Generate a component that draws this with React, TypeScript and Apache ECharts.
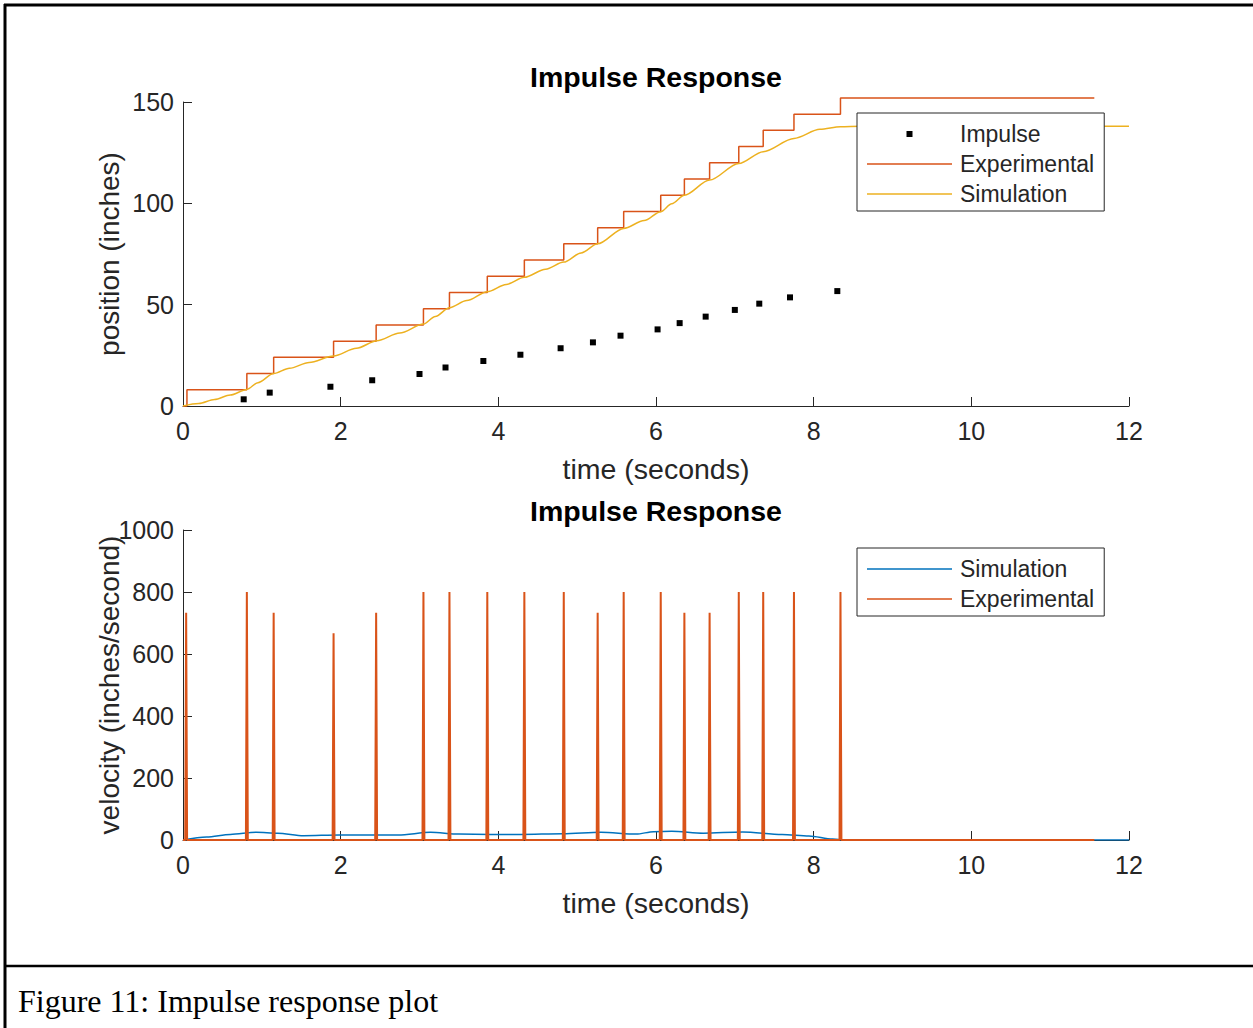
import React, { useEffect, useRef } from "react";
import * as echarts from "echarts";

// ---- Data ----
// Impulse markers (top plot)
const impulseTimes = [0.77, 1.1, 1.87, 2.4, 3.0, 3.33, 3.81, 4.28, 4.79, 5.2, 5.55, 6.02, 6.3, 6.63, 7.0, 7.31, 7.7, 8.3];
const impulseValues = [3.3, 6.6, 9.5, 12.7, 15.8, 19.0, 22.2, 25.3, 28.5, 31.4, 34.7, 37.8, 40.9, 44.1, 47.4, 50.5, 53.6, 56.7];

// Experimental position: step changes (time of step, level after step)
const expStepTimes = [0, 0.05, 0.81, 1.15, 1.91, 2.45, 3.05, 3.38, 3.86, 4.33, 4.83, 5.26, 5.59, 6.06, 6.36, 6.68, 7.05, 7.36, 7.75, 8.34, 11.56];
const expStepLevels = [0, 8, 16, 24, 32, 40, 48, 56, 64, 72, 80, 88, 96, 104, 112, 120, 128, 136, 144, 152, 152];

// Simulated position
const simPosTimes = [0, 0.2, 0.4, 0.6, 0.81, 0.95, 1.15, 1.35, 1.6, 1.91, 2.2, 2.46, 2.75, 3.05, 3.2, 3.38, 3.6, 3.86, 4.1, 4.33, 4.6, 4.83, 5.05, 5.26, 5.59, 5.85, 6.06, 6.2, 6.36, 6.68, 7.05, 7.36, 7.75, 8.08, 8.34, 8.6, 12];
const simPosValues = [0, 1.2, 3.2, 5.4, 8.2, 11.5, 16, 18.6, 21.5, 24.7, 28.5, 32.2, 36, 40.4, 44.2, 48.5, 52, 56.4, 60, 63.5, 67.5, 71, 75.5, 80, 87.6, 91.5, 95.9, 99.8, 104, 111.5, 119.7, 125.5, 132, 136.5, 137.8, 138, 138];

// Simulated velocity
const simVelTimes = [0, 0.3, 0.6, 0.93, 1.2, 1.53, 1.98, 2.4, 2.73, 3.14, 3.5, 3.9, 4.28, 4.82, 5.3, 5.75, 5.97, 6.2, 6.6, 7.1, 7.6, 7.94, 8.24, 8.4, 12];
const simVelValues = [0, 10, 18, 25, 22, 14, 16, 16, 16, 25, 19, 18, 18, 20, 25, 19, 27, 28, 22, 26, 18, 13, 3, 0, 0];

// Experimental velocity spikes
const spikeTimes = [0.04, 0.81, 1.15, 1.91, 2.45, 3.05, 3.38, 3.86, 4.33, 4.83, 5.26, 5.59, 6.06, 6.36, 6.68, 7.05, 7.36, 7.75, 8.34];
const spikePeaks = [733, 800, 733, 667, 733, 800, 800, 800, 800, 800, 733, 800, 800, 733, 733, 800, 800, 800, 800];
const expVelEnd = 11.56;
const SPIKE_HALF_WIDTH = 0.012; // one sample period

const xTicks = { min: 0, max: 12, interval: 2 };

const ORANGE = "#D95319";
const YELLOW = "#EDB120";
const BLUE = "#0072BD";
const AXIS = "#262626";
const FONT = "'Liberation Sans', Arial, sans-serif";
const LINE_ICON = "path://M0 0H85V1.3H0Z";
const SQUARE_ICON = "path://M0 0H10V10H0Z";

function buildSpikes() {
  const pts: number[][] = [[0, 0]];
  spikeTimes.forEach((t, i) => {
    pts.push([Math.max(0, t - SPIKE_HALF_WIDTH), 0]);
    pts.push([t, spikePeaks[i]]);
    pts.push([t + SPIKE_HALF_WIDTH, 0]);
  });
  pts.push([expVelEnd, 0]);
  return pts;
}

function xAxisCfg(gridIndex: number) {
  return {
    type: "value",
    gridIndex,
    min: xTicks.min,
    max: xTicks.max,
    interval: xTicks.interval,
    axisLine: { show: true, onZero: false, lineStyle: { color: AXIS, width: 1 } },
    axisTick: { show: true, inside: true, length: 9, lineStyle: { color: AXIS, width: 1 } },
    axisLabel: { fontSize: 25, color: AXIS, margin: 12, fontFamily: FONT, formatter: (v: number) => String(v) },
    splitLine: { show: false },
    name: "time (seconds)",
    nameLocation: "middle",
    nameGap: 48,
    nameMoveOverlap: false,
    nameTextStyle: { fontSize: 28.5, color: AXIS, fontFamily: FONT },
  };
}

function yAxisCfg(gridIndex: number, max: number, interval: number, name: string) {
  return {
    type: "value",
    gridIndex,
    min: 0,
    max,
    interval,
    axisLine: { show: true, onZero: false, lineStyle: { color: AXIS, width: 1 } },
    axisTick: { show: true, inside: true, length: 9, lineStyle: { color: AXIS, width: 1 } },
    axisLabel: { fontSize: 25, color: AXIS, margin: 9, fontFamily: FONT, formatter: (v: number) => String(v) },
    splitLine: { show: false },
    name,
    nameLocation: "middle",
    nameGap: 60,
    nameMoveOverlap: false,
    nameTextStyle: { fontSize: 28, color: AXIS, fontFamily: FONT },
  };
}

function legendCfg(top: number, data: any[]) {
  return {
    show: true,
    orient: "vertical",
    left: 857,
    top,
    data,
    itemWidth: 85,
    itemHeight: 6,
    itemGap: 6,
    symbolKeepAspect: true,
    padding: [9, 10, 5, 10],
    backgroundColor: "#fff",
    borderColor: AXIS,
    borderWidth: 1,
    borderRadius: 0,
    selectedMode: false,
    formatter: (n: string) => n.trim(),
    textStyle: { fontSize: 23, lineHeight: 24, color: AXIS, fontFamily: FONT, padding: [0, 0, 0, 3] },
  };
}

function titleText(y: number) {
  return {
    type: "text",
    x: 656,
    y,
    style: {
      text: "Impulse Response",
      fontSize: 28.5,
      fontWeight: "bold",
      fontFamily: FONT,
      fill: "#000",
      align: "center",
      verticalAlign: "middle",
      textAlign: "center",
      textVerticalAlign: "middle",
    },
  };
}

export default function App() {
  const ref = useRef<HTMLDivElement>(null);
  useEffect(() => {
    if (!ref.current) return;
    const chart = echarts.init(ref.current, undefined, { renderer: "svg" });
    const option: any = {
      animation: false,
      backgroundColor: "#fff",
      textStyle: { fontFamily: FONT },
      grid: [
        { left: 183, top: 102, width: 946, height: 304 },
        { left: 183, top: 530, width: 946, height: 310 },
      ],
      xAxis: [xAxisCfg(0), xAxisCfg(1)],
      yAxis: [
        yAxisCfg(0, 150, 50, "position (inches)"),
        yAxisCfg(1, 1000, 200, "velocity (inches/second)"),
      ],
      legend: [
        legendCfg(113, [
          { name: "Impulse", icon: SQUARE_ICON, itemStyle: { color: "#000", opacity: 1 } },
          { name: "Experimental", icon: LINE_ICON },
          { name: "Simulation", icon: LINE_ICON },
        ]),
        legendCfg(548, [
          { name: "Simulation ", icon: LINE_ICON },
          { name: "Experimental ", icon: LINE_ICON },
        ]),
      ],
      series: [
        {
          name: "Impulse",
          type: "scatter",
          xAxisIndex: 0,
          yAxisIndex: 0,
          symbol: "rect",
          symbolSize: 6,
          itemStyle: { color: "#000", opacity: 1 },
          data: impulseTimes.map((t, i) => [t, impulseValues[i]]),
        },
        {
          name: "Experimental",
          type: "line",
          xAxisIndex: 0,
          yAxisIndex: 0,
          step: "end",
          symbol: "none",
          clip: false,
          color: ORANGE,
          lineStyle: { color: ORANGE, width: 1.5 },
          data: expStepTimes.map((t, i) => [t, expStepLevels[i]]),
        },
        {
          name: "Simulation",
          type: "line",
          xAxisIndex: 0,
          yAxisIndex: 0,
          symbol: "none",
          smooth: 0.3,
          smoothMonotone: "x",
          color: YELLOW,
          lineStyle: { color: YELLOW, width: 1.5 },
          data: simPosTimes.map((t, i) => [t, simPosValues[i]]),
        },
        {
          name: "Simulation ",
          type: "line",
          xAxisIndex: 1,
          yAxisIndex: 1,
          symbol: "none",
          smooth: 0.3,
          smoothMonotone: "x",
          color: BLUE,
          lineStyle: { color: BLUE, width: 1.5 },
          data: simVelTimes.map((t, i) => [t, simVelValues[i]]),
        },
        {
          name: "Experimental ",
          type: "line",
          xAxisIndex: 1,
          yAxisIndex: 1,
          symbol: "none",
          color: ORANGE,
          lineStyle: { color: ORANGE, width: 2 },
          data: buildSpikes(),
        },
      ],
      graphic: [
        titleText(77),
        titleText(511),
        { type: "line", shape: { x1: 4, y1: 5, x2: 1253, y2: 5 }, style: { stroke: "#000", lineWidth: 3 } },
        { type: "line", shape: { x1: 5, y1: 4, x2: 5, y2: 1028 }, style: { stroke: "#000", lineWidth: 3 } },
        { type: "line", shape: { x1: 4, y1: 966, x2: 1253, y2: 966 }, style: { stroke: "#000", lineWidth: 2.5 } },
        {
          type: "text",
          x: 18,
          y: 1001,
          style: {
            text: "Figure 11: Impulse response plot",
            fontSize: 32,
            fontFamily: "'Liberation Serif', 'Times New Roman', serif",
            fill: "#000",
            align: "left",
            verticalAlign: "middle",
            textAlign: "left",
            textVerticalAlign: "middle",
          },
        },
      ],
    };
    chart.setOption(option);
    return () => chart.dispose();
  }, []);
  return (
    <div
      ref={ref}
      style={{ position: "absolute", left: 0, top: 0, width: 1253, height: 1028 }}
    />
  );
}
